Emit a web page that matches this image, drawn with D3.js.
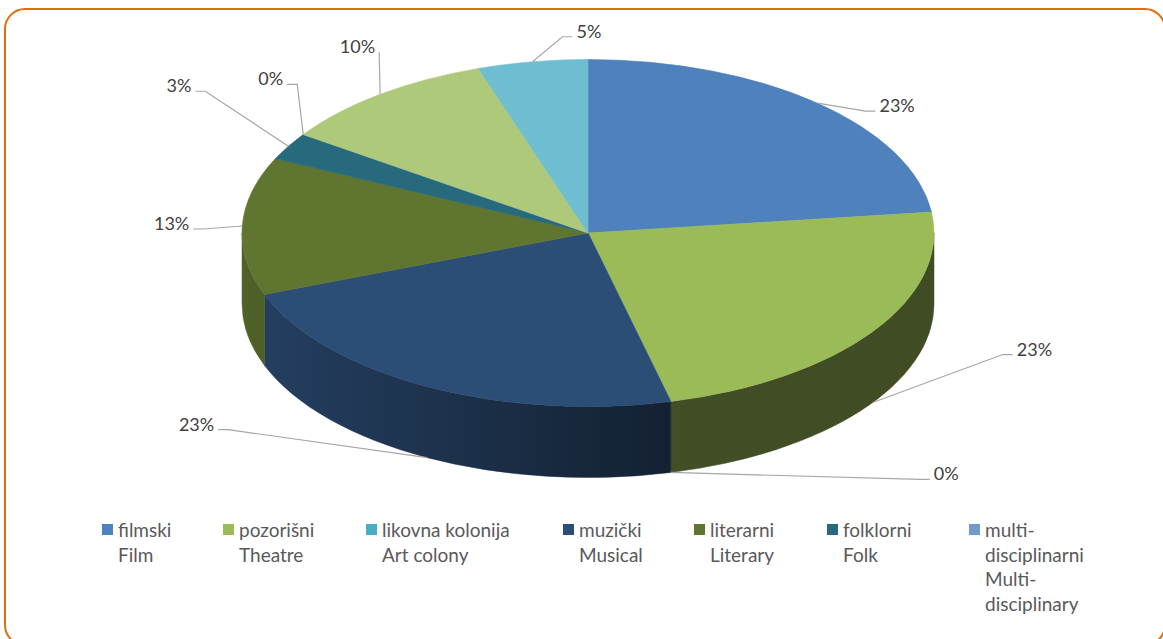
<!DOCTYPE html>
<html>
<head>
<meta charset="utf-8">
<script src="https://cdn.jsdelivr.net/npm/d3@7"></script>
<style>
  body { margin: 0; background: #fff; }
  svg { display: block; font-family: Lato, "Liberation Sans", sans-serif; }
</style>
</head>
<body>
<div id="chart"></div>
<script>
// Podaci (broj manifestacija po vrsti)
const counts = [9, 9, 0, 9, 5, 1, 0, 4, 2];
const colors = ["#4F81BD", "#9BBB59", "#4BACC6", "#2C4D75", "#5F7530", "#276A7C", "#729ACA", "#AFC97A", "#6FBDD1"];
// Legenda prikazuje samo prvih 7 kategorija
const legendLines = [
  ["filmski", "Film"],
  ["pozorišni", "Theatre"],
  ["likovna kolonija", "Art colony"],
  ["muzički", "Musical"],
  ["literarni", "Literary"],
  ["folklorni", "Folk"],
  ["multi-", "disciplinarni", "Multi-", "disciplinary"]
];

// Raspored oznaka (lakat linije u odnosu na sidro, duzina repa)
const labelElbows = [[48, 8], [130, -48], [249, 7], [-199, -28], [-39, 3], [-83, -55], [-6, -50], [-1, -42], [30, -25]];
const labelTails = [10, 10, 10, 10, 10, 10, 10, 0, 10];
// pozicije stavki legende (x)
const legendX = [102, 223, 366, 563, 694, 827, 969];

const W = 1163, H = 639;
const cx = 588, cy = 233, rx = 346, ry = 173.5, depth = 71;

const svg = d3.select("#chart").append("svg")
  .attr("width", W)
  .attr("height", H);

// okvir
svg.append("rect")
  .attr("x", 5).attr("y", 9)
  .attr("width", 1160).attr("height", 636)
  .attr("rx", 20).attr("ry", 20)
  .attr("fill", "#fff")
  .attr("stroke", "#E46C0A")
  .attr("stroke-width", 2);

const total = d3.sum(counts);
const pie = d3.pie().sort(null).value(d => d);
const arcs = pie(counts);

const pt = a => [cx + rx * Math.sin(a), cy - ry * Math.cos(a)];

// gradijenti za bocne strane
const defs = svg.append("defs");
colors.forEach((c, i) => {
  const g = defs.append("linearGradient")
    .attr("id", "side" + i)
    .attr("gradientUnits", "userSpaceOnUse")
    .attr("x1", cx - rx).attr("x2", cx + rx)
    .attr("y1", 0).attr("y2", 0);
  [[0, 0.5], [0.62, 2.4], [1, 2.5]].forEach(([o, k]) => {
    g.append("stop").attr("offset", o).attr("stop-color", d3.color(c).darker(k).formatHex());
  });
});

// bocne strane (vidljiva je samo donja polovina)
const sides = svg.append("g");
arcs.forEach((d, i) => {
  const a0 = Math.max(d.startAngle, Math.PI / 2);
  const a1 = Math.min(d.endAngle, Math.PI * 1.5);
  if (a1 <= a0) return;
  const p0 = pt(a0), p1 = pt(a1);
  const path = `M${p0[0]},${p0[1]} A${rx},${ry} 0 0 1 ${p1[0]},${p1[1]}` +
    ` L${p1[0]},${p1[1] + depth} A${rx},${ry} 0 0 0 ${p0[0]},${p0[1] + depth} Z`;
  sides.append("path")
    .attr("d", path)
    .attr("fill", `url(#side${i})`)
    .attr("stroke", `url(#side${i})`)
    .attr("stroke-width", 0.5);
});

// gornja povrsina
const arc = d3.arc().innerRadius(0).outerRadius(rx);
svg.append("g")
  .attr("transform", `translate(${cx},${cy}) scale(1,${ry / rx})`)
  .selectAll("path")
  .data(arcs)
  .join("path")
  .attr("d", arc)
  .attr("fill", (d, i) => colors[i])
  .attr("stroke", (d, i) => colors[i])
  .attr("stroke-width", 0.6)
  .attr("vector-effect", "non-scaling-stroke");

// oznake procenata sa linijama
const labels = svg.append("g");
arcs.forEach((d, i) => {
  const mid = (d.startAngle + d.endAngle) / 2;
  const a = pt(mid);
  if (Math.cos(mid) < 0) a[1] += depth;
  const e = [a[0] + labelElbows[i][0], a[1] + labelElbows[i][1]];
  const dir = labelElbows[i][0] >= 0 ? 1 : -1;
  const t = [e[0] + dir * labelTails[i], e[1]];
  labels.append("polyline")
    .attr("points", [a, e, t].map(p => p.join(",")).join(" "))
    .attr("fill", "none")
    .attr("stroke", "#A6A6A6")
    .attr("stroke-width", 1.2);
  labels.append("text")
    .attr("x", t[0] + dir * 4)
    .attr("y", t[1] + 1)
    .attr("text-anchor", dir > 0 ? "start" : "end")
    .attr("fill", "#404040")
    .style("font-size", "18px")
    .text(Math.round(d.value / total * 100) + "%");
});

// legenda
const legend = svg.append("g").attr("transform", "translate(0,524)");
legendLines.forEach((lines, i) => {
  const item = legend.append("g").attr("transform", `translate(${legendX[i]},0)`);
  item.append("rect")
    .attr("width", 11).attr("height", 11)
    .attr("fill", colors[i]);
  const txt = item.append("text")
    .attr("fill", "#595959")
    .style("font-size", "19px");
  lines.forEach((s, j) => {
    txt.append("tspan")
      .attr("x", 16)
      .attr("y", 13 + j * 24.5)
      .text(s);
  });
});
</script>
</body>
</html>
